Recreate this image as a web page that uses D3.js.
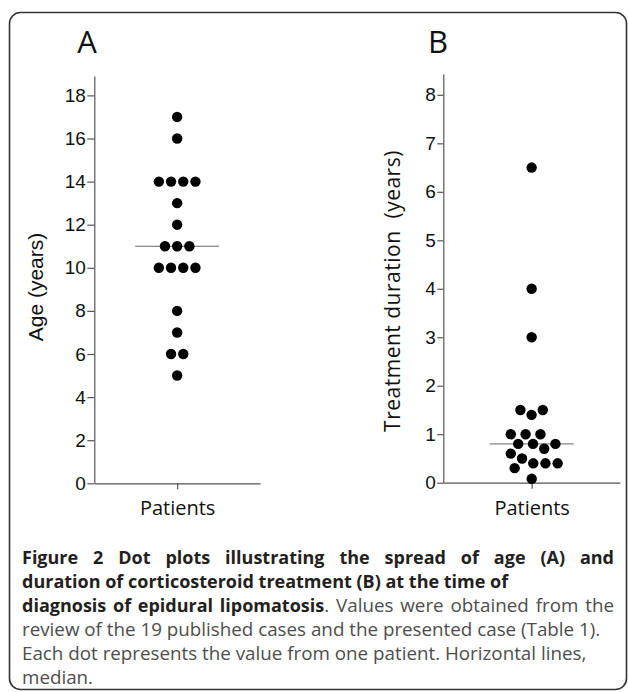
<!DOCTYPE html>
<html>
<head>
<meta charset="utf-8">
<script src="https://cdn.jsdelivr.net/npm/d3@7"></script>
<style>
  body { margin: 0; background: #fff; }
  svg { display: block; }
</style>
</head>
<body>
<div id="chart"></div>
<script>
// Values (one dot per patient)
const categories = ['Patients'];
const ageValues = [17, 16, 14, 14, 14, 14, 13, 12, 11, 11, 11, 10, 10, 10, 10, 8, 7, 6, 6, 5];
const durationValues = [6.5, 4, 3, 1.5, 1.5, 1.4, 1, 1, 1, 0.8, 0.8, 0.8, 0.7, 0.6, 0.5, 0.4, 0.4, 0.4, 0.3, 0.08];
const ageTicks = [0, 2, 4, 6, 8, 10, 12, 14, 16, 18];
const durationTicks = [0, 1, 2, 3, 4, 5, 6, 7, 8];
const panelLabels = ['A', 'B'];
const yLabels = ['Age (years)', 'Treatment duration  (years)'];
const captionLines = [
  [{ t: 'Figure 2 Dot plots illustrating the spread of age (A) and', b: true }],
  [{ t: 'duration of corticosteroid treatment (B) at the time of', b: true }],
  [{ t: 'diagnosis of epidural lipomatosis', b: true }, { t: '. Values were obtained from the', b: false }],
  [{ t: 'review of the 19 published cases and the presented case (Table 1).', b: false }],
  [{ t: 'Each dot represents the value from one patient. Horizontal lines,', b: false }],
  [{ t: 'median.', b: false }]
];

const WIDTH = 629;
const HEIGHT = 692;
const DOT_R = 5.2;

const svg = d3.select('#chart')
  .append('svg')
  .attr('width', WIDTH)
  .attr('height', HEIGHT);

// frame
svg.append('rect')
  .attr('x', 9.5).attr('y', 12.5)
  .attr('width', 617).attr('height', 677)
  .attr('rx', 11)
  .attr('fill', 'none')
  .attr('stroke', '#333')
  .attr('stroke-width', 1.6);

// one dot plot per panel
const panels = [
  { values: ageValues, ticks: ageTicks, yMax: 18.9, top: 76, bottom: 483.3,
    left: 94.3, right: 260, labelX: 87, labelFont: 'Liberation Sans, Arial, sans-serif',
    labelSize: 21, labelSpacing: 0, yLabelX: 43, yLabelY: 287, tickSize: 7 },
  { values: durationValues, ticks: durationTicks, yMax: 8.43, top: 74, bottom: 482.7,
    left: 443.3, right: 620, labelX: 438, labelFont: 'Open Sans, sans-serif',
    labelSize: 21, labelSpacing: 0.5, yLabelX: 400, yLabelY: 291, tickSize: 6 }
];

// spread dots of similar value sideways so they don't overlap
function swarm(values, y, cx) {
  const nodes = values.map(v => ({ value: v, x: cx, y: y(v), fy: y(v) }));
  const sim = d3.forceSimulation(nodes)
    .force('x', d3.forceX(cx).strength(0.04))
    .force('collide', d3.forceCollide(DOT_R + 0.9).iterations(4))
    .stop();
  for (let i = 0; i < 400; i++) sim.tick();
  return nodes;
}

panels.forEach((p, i) => {
  const g = svg.append('g');

  const yScale = d3.scaleLinear()
    .domain([0, p.yMax])
    .range([p.bottom, p.top]);

  const xScale = d3.scalePoint()
    .domain(categories)
    .range([p.left, p.right])
    .padding(0.5);

  // y axis
  const yAxis = d3.axisLeft(yScale)
    .tickValues(p.ticks)
    .tickSize(p.tickSize)
    .tickSizeOuter(0)
    .tickPadding(1.5)
    .tickFormat(d3.format('d'));
  const ya = g.append('g')
    .attr('transform', 'translate(' + p.left + ',0)')
    .call(yAxis);
  ya.select('.domain').attr('stroke', '#555').attr('stroke-width', 1.2);
  ya.selectAll('.tick line').attr('stroke', '#555').attr('stroke-width', 1.2);
  ya.selectAll('.tick text')
    .attr('fill', '#111')
    .style('font-family', 'Liberation Sans, Arial, sans-serif')
    .style('font-size', '19px');

  // x axis
  const xAxis = d3.axisBottom(xScale).tickSize(6).tickSizeOuter(0).tickPadding(10);
  const xa = g.append('g')
    .attr('transform', 'translate(0,' + p.bottom + ')')
    .call(xAxis);
  xa.select('.domain').attr('stroke', '#555').attr('stroke-width', 1.2);
  xa.selectAll('.tick line').attr('stroke', '#555').attr('stroke-width', 1.2);
  xa.selectAll('.tick text')
    .attr('fill', '#111')
    .attr('dy', null)
    .attr('y', 515 - p.bottom)
    .style('font-family', 'Open Sans, sans-serif')
    .style('font-size', '20px');

  // panel letter
  g.append('text')
    .attr('x', p.labelX)
    .attr('y', 53)
    .attr('text-anchor', 'middle')
    .style('font-family', 'Open Sans, sans-serif')
    .style('font-size', '31px')
    .attr('fill', '#111')
    .text(panelLabels[i]);

  // y axis title
  g.append('text')
    .attr('transform', 'translate(' + p.yLabelX + ',' + p.yLabelY + ') rotate(-90)')
    .attr('text-anchor', 'middle')
    .style('font-family', p.labelFont)
    .style('font-size', p.labelSize + 'px')
    .style('letter-spacing', p.labelSpacing + 'px')
    .style('white-space', 'pre')
    .attr('fill', '#111')
    .text(yLabels[i]);

  // median line
  const cx = xScale(categories[0]);
  const med = d3.median(p.values);
  g.append('line')
    .attr('x1', cx - 42).attr('x2', cx + 42)
    .attr('y1', yScale(med)).attr('y2', yScale(med))
    .attr('stroke', '#666')
    .attr('stroke-width', 1);

  // dots
  g.selectAll('circle')
    .data(swarm(p.values, yScale, cx))
    .enter()
    .append('circle')
    .attr('cx', d => d.x)
    .attr('cy', d => d.y)
    .attr('r', DOT_R)
    .attr('fill', '#000');
});

// caption
const CAP_X = 22;
const CAP_RIGHT = 614;
const CAP_TOP = 564;
const LINE_H = 24;
captionLines.forEach((line, i) => {
  const t = svg.append('text')
    .attr('x', CAP_X)
    .attr('y', CAP_TOP + i * LINE_H)
    .style('font-family', 'Open Sans, sans-serif')
    .style('white-space', 'pre');
  line.forEach(seg => {
    t.append('tspan')
      .attr('font-weight', seg.b ? 700 : 400)
      .style('font-size', seg.b ? '18px' : '18.8px')
      .attr('fill', seg.b ? '#231f20' : '#4d4d4d')
      .text(seg.t);
  });
  // lines 1 and 3 are set full width in the figure
  if (i === 0 || i === 2) {
    const natural = t.node().getComputedTextLength();
    const spaces = line.map(s => s.t).join('').split(' ').length - 1;
    t.attr('word-spacing', (CAP_RIGHT - CAP_X - natural) / spaces);
  }
});
</script>
</body>
</html>
